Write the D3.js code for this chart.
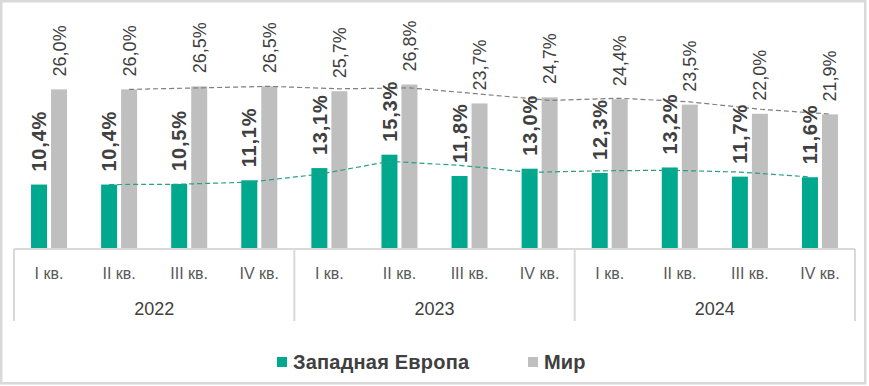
<!DOCTYPE html>
<html>
<head>
<meta charset="utf-8">
<script src="https://cdn.jsdelivr.net/npm/d3@7"></script>
<style>
  html, body { margin: 0; padding: 0; background: #fff; }
  svg { display: block; font-family: "Liberation Sans", Arial, sans-serif; }
</style>
</head>
<body>
<svg id="chart" width="869" height="386"></svg>
<script>
// data
const years = ["2022", "2023", "2024"];
const quarterLabels = ["I кв.", "II кв.", "III кв.", "IV кв."];
const seriesNames = ["Западная Европа", "Мир"];
const westernEurope = [10.4, 10.4, 10.5, 11.1, 13.1, 15.3, 11.8, 13.0, 12.3, 13.2, 11.7, 11.6];
const world = [26.0, 26.0, 26.5, 26.5, 25.7, 26.8, 23.7, 24.7, 24.4, 23.5, 22.0, 21.9];

const colors = { "Западная Европа": "#00a88e", "Мир": "#bfbfbf" };
const trendColors = { "Западная Европа": "#2a9f87", "Мир": "#7f7f7f" };

const categories = years.flatMap(y => quarterLabels.map(q => ({ year: y, quarter: q, key: y + " " + q })));
const seriesData = { "Западная Европа": westernEurope, "Мир": world };

const svg = d3.select("#chart");
const baseline = 248;

// outer frame
svg.append("rect")
  .attr("x", 1.25).attr("y", 1.25)
  .attr("width", 864).attr("height", 382)
  .attr("fill", "#fff")
  .attr("stroke", "#d9d9d9")
  .attr("stroke-width", 2.5);

const x = d3.scaleBand()
  .domain(categories.map(d => d.key))
  .range([14, 855])
  .padding(0);

const inner = d3.scaleBand()
  .domain(seriesNames)
  .range([-18, 18])
  .paddingInner(0.2);

const y = d3.scaleLinear()
  .domain([0, 30])
  .range([baseline, 65]);

const ru = d3.formatLocale({ decimal: ",", thousands: " ", grouping: [3], currency: ["", ""] });
const fmt = v => ru.format(".1f")(v) + "%";

const cx = (i, s) => x(categories[i].key) + x.bandwidth() / 2 + inner(s);

// bars
seriesNames.forEach(s => {
  svg.append("g")
    .selectAll("rect")
    .data(seriesData[s])
    .enter()
    .append("rect")
    .attr("x", (d, i) => cx(i, s))
    .attr("y", d => y(d))
    .attr("width", inner.bandwidth())
    .attr("height", d => baseline - y(d))
    .attr("fill", colors[s]);
});

// moving average (period 2) trendlines, as in the source chart
seriesNames.forEach(s => {
  const vals = seriesData[s];
  const pts = vals.slice(1).map((v, k) => ({ i: k + 1, v: (vals[k] + v) / 2 }));
  const line = d3.line()
    .x(d => cx(d.i, s) + inner.bandwidth() / 2)
    .y(d => y(d.v));
  svg.append("path")
    .datum(pts)
    .attr("fill", "none")
    .attr("stroke", trendColors[s])
    .attr("stroke-width", 1.2)
    .attr("stroke-dasharray", "5,3")
    .attr("d", line);
});

// data labels, rotated
seriesNames.forEach((s, si) => {
  svg.append("g")
    .selectAll("text")
    .data(seriesData[s])
    .enter()
    .append("text")
    .attr("transform", (d, i) => `translate(${cx(i, s) + inner.bandwidth() / 2},${y(d) - 13}) rotate(-90)`)
    .attr("dy", "0.36em")
    .style("text-anchor", "start")
    .style("font-size", si === 0 ? "20px" : "18px")
    .style("letter-spacing", si === 0 ? "0.8px" : "0px")
    .style("font-weight", si === 0 ? "bold" : "normal")
    .style("fill", "#404040")
    .text(fmt);
});

// category axis box
const axisG = svg.append("g").attr("stroke", "#d9d9d9").attr("stroke-width", 2);
axisG.append("line")
  .attr("x1", x.range()[0]).attr("x2", x.range()[1])
  .attr("y1", 249).attr("y2", 249);
const yearEdges = years.map((yr, k) => x(categories[k * 4].key)).concat([x.range()[1]]);
axisG.selectAll(".sep")
  .data(yearEdges)
  .enter()
  .append("line")
  .attr("x1", d => d).attr("x2", d => d)
  .attr("y1", 249).attr("y2", 321);

svg.append("g")
  .selectAll("text")
  .data(categories)
  .enter()
  .append("text")
  .attr("x", d => x(d.key) + x.bandwidth() / 2)
  .attr("y", 273)
  .attr("dy", "0.35em")
  .style("text-anchor", "middle")
  .style("font-size", "16px")
  .style("fill", "#595959")
  .text(d => d.quarter);

svg.append("g")
  .selectAll("text")
  .data(years)
  .enter()
  .append("text")
  .attr("x", (d, k) => (yearEdges[k] + yearEdges[k + 1]) / 2)
  .attr("y", 309)
  .attr("dy", "0.35em")
  .style("text-anchor", "middle")
  .style("font-size", "18px")
  .style("fill", "#404040")
  .text(d => d);

// legend
const legendX = [277, 528];
const legend = svg.append("g")
  .selectAll("g")
  .data(seriesNames)
  .enter()
  .append("g")
  .attr("transform", (d, i) => `translate(${legendX[i]},357)`);
legend.append("rect")
  .attr("width", 10).attr("height", 10)
  .attr("fill", d => colors[d]);
legend.append("text")
  .attr("x", 16).attr("y", 11.5)
  .style("font-size", "20px")
  .style("font-weight", "bold")
  .style("letter-spacing", "0.2px")
  .style("fill", "#404040")
  .text(d => d);
</script>
</body>
</html>
